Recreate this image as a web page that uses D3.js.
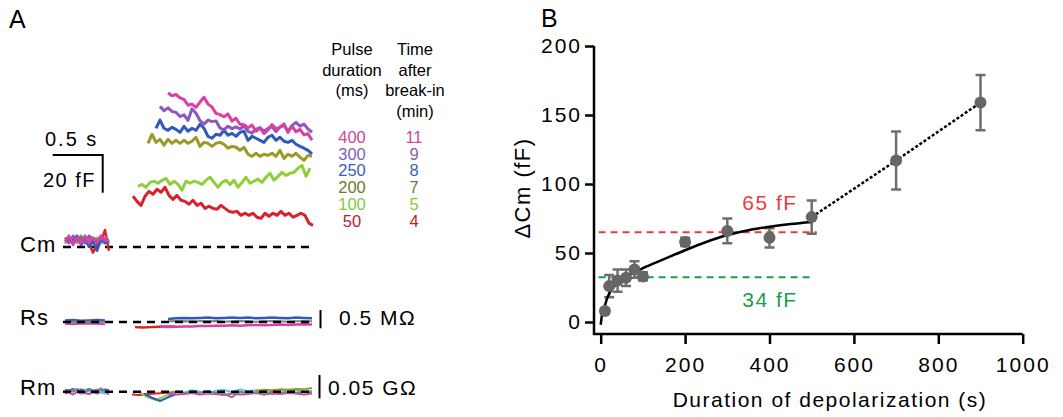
<!DOCTYPE html>
<html>
<head>
<meta charset="utf-8">
<script src="https://cdn.jsdelivr.net/npm/d3@7"></script>
<style>
  body { margin: 0; background: #fff; }
  text { font-family: "Liberation Sans", Arial, sans-serif; }
</style>
</head>
<body>
<div id="chart"></div>
<script>
// ---------- panel B data ----------
var durations = [10, 20, 40, 60, 80, 100, 200, 300, 400, 500, 700, 900]
var dCm       = [8, 26, 30, 32, 38, 33, 58, 66, 61, 76, 117, 159]
var dCmErr    = [2, 8, 8, 6, 6, 3, 3, 9, 7, 12, 21, 20]
var fitX = [0, 3, 6, 10, 15, 20, 30, 40, 60, 80, 100, 150, 200, 250, 300, 350, 400, 450, 500]
var fitY = [-2, 5, 9, 12, 17, 20.5, 25, 28.5, 33, 36, 39, 45.5, 52, 58, 63, 66.5, 69, 71, 72.5]
var levelValues = [65, 32.5]
var levelLabels = ["65 fF", "34 fF"]
var levelEnds = [512, 495]
var xTicks = [0, 200, 400, 600, 800, 1000]
var yTicks = [0, 50, 100, 150, 200]

// ---------- panel A data ----------
var pulses   = [400, 300, 250, 200, 100, 50]
var breakIn  = [11, 9, 8, 7, 5, 4]
var traceColors = ["#dc3fa4", "#8d58be", "#3159bd", "#9a9a26", "#8ecf3a", "#d7222b"]
var labelColors = ["#d2459c", "#8a5cb8", "#3d5cb8", "#76762e", "#7ccd3c", "#b52230"]
var cmStart = [0.35, 0.27, 0.23, 0.15, 0.05, 0]   // s after pulse
var cm400 = [81.7, 80.2, 80.9, 79.1, 78.3, 75.2, 75.8, 74.1, 76.9, 79.4, 75.8, 74.3, 70.9, 70.2, 69.1, 70.6, 66.8, 68.3, 65.1, 64.9, 63.2, 64.7, 61.4, 63.1, 60.2, 62, 64.9, 62.7, 63.6, 65.3, 60.8, 64.2, 61.1, 62.4, 59.5, 60.1, 56.6]
var cm300 = [74.6, 72.3, 73.8, 71.9, 71.4, 69.2, 70.1, 67.2, 73.3, 70.9, 67.1, 65.2, 67.3, 66.5, 66.9, 63.1, 62.2, 64.1, 62.8, 63.7, 62.6, 64.2, 61.3, 60.4, 62.5, 63.3, 61.4, 62.9, 63.9, 61.2, 63.6, 64.5, 61.5, 64.4, 66.1, 64.1, 65.2, 62.6, 60.8]
var cm250 = [63, 67.3, 63, 61.9, 63.5, 62.4, 60.8, 64, 61.4, 63, 61.9, 65.1, 63, 58.7, 57.7, 59.8, 59.3, 61.9, 59.3, 60.3, 58.7, 60.8, 61.4, 56.6, 58.7, 57.7, 56.6, 55.5, 58.2, 59.3, 56.6, 58.2, 56.1, 55.5, 56.6, 54.5, 53.4, 52.4, 51.3, 49.4]
var cm200 = [55, 59.8, 55.5, 57.1, 54, 57.1, 55, 56.6, 55, 56.6, 55, 56.1, 58.2, 53.4, 55.5, 55, 53.4, 55, 55.5, 54.5, 52.4, 53.4, 52.9, 51.3, 52.9, 49.2, 48.1, 49.7, 48.1, 49.2, 48.6, 49.7, 48.1, 51.3, 47, 49.2, 48.1, 49.7, 47.6, 46, 48.6, 48.1]
var cm100 = [32.2, 33.2, 31.7, 34.3, 34.9, 33.8, 35.4, 36.4, 33.2, 34.9, 33.2, 30.1, 34.9, 33.8, 34.9, 34.3, 33.2, 35.4, 37, 34.3, 31.7, 34.3, 35.4, 33.2, 35.4, 31.7, 34.3, 37, 33.8, 34.9, 36, 34.3, 37, 39.1, 35.4, 37.5, 39.6, 38, 39.1, 39.6, 41.8, 43.3, 37.5, 41.8]
var cm50  = [26.9, 24.2, 22.1, 26.9, 29.5, 28, 30.6, 29, 31.7, 27.4, 25.3, 27.4, 24.8, 24.2, 22.7, 24.8, 22.1, 23.2, 20.5, 21.6, 20.5, 20, 22.1, 20.5, 18.9, 18.4, 18.9, 16.8, 17.9, 16.8, 17.9, 15.8, 15.2, 17.9, 16.3, 17.9, 16.8, 18.9, 16.8, 17.9, 15.8, 16.8, 17.9, 16.8, 12.6, 11.5]
var cmTraces = [cm400, cm300, cm250, cm200, cm100, cm50]

// baseline before the pulse (fF), one per colour
var cmPre400 = [3, 6, 1, 5, 2, 6, 2, 5, 3, 6, 4, 3]
var cmPre300 = [4, 2, 6, 3, 5, 2, 6, 4, 2, 5, 3, 4]
var cmPre250 = [5, 3, 4, 6, 1, 4, 0, 3, -2, 4, 2, 3]
var cmPre200 = [2, 5, 3, 4, 6, 3, 5, 2, 4, 3, 5, 2]
var cmPre100 = [4, 3, 5, 2, 4, 5, 3, 4, 5, 2, 4, 3]
var cmPre50  = [3, 4, 2, 5, 3, 4, 2, -3, 1, 3, 9, -2]
var cmPre = [cmPre400, cmPre300, cmPre250, cmPre200, cmPre100, cmPre50]

// Rs (MOhm, offset from baseline)
var rsPreBlue = [0.05, 0.06, 0.04, 0.05, 0.06, 0.05]
var rsPrePink = [-0.05, -0.06, -0.04, -0.05, -0.05, -0.06]
var rsPreGray = [0, 0.01, -0.01, 0.01, 0, 0.01]
var rsRed   = [-0.14, -0.15, -0.14, -0.13, -0.12, -0.12]
var rsGreen = [0.03, 0.02, 0.03]
var rsPink  = [-0.13, -0.14, -0.13, -0.12, -0.12, -0.11, -0.11, -0.1, -0.1, -0.09, -0.1, -0.09, -0.08, -0.09, -0.08, -0.07, -0.08, -0.07, -0.06, -0.07]
var rsBlue  = [0.08, 0.1, 0.11, 0.1, 0.11, 0.12, 0.1, 0.11, 0.12, 0.11, 0.12, 0.1, 0.11, 0.12, 0.11, 0.1, 0.12, 0.11, 0.1]
var rsGray  = [0.02, 0.03, 0.02, 0.01, 0.03, 0.02, 0.03, 0.01, 0.02, 0.03, 0.02, 0.01, 0.02, 0.03, 0.02, 0.01, 0.02, 0.03, 0.02]

// Rm (GOhm, offset from baseline)
var rmPreBlue = [0.004, 0.002, 0.006, 0.001, 0.005, 0.003, 0.006, 0.002, 0.004, 0.001, 0.005, 0.003]
var rmPrePink = [-0.004, -0.002, -0.006, -0.001, -0.004, -0.003, -0.005, -0.002, -0.004, -0.001, -0.003, -0.005]
var rmPreGray = [0.001, 0.004, 0, 0.006, 0.002, -0.002, 0.005, 0, 0.003, 0.007, 0.001, 0.002]
var rmPreCyan = [0.002, -0.001, 0.003, 0, -0.002, 0.004, 0.001, -0.003, 0.002, 0, -0.004, 0.001]
var rmRed   = [-0.006, -0.007, -0.005, -0.004, -0.003, -0.002]
var rmGreen = [-0.002, -0.012, -0.018, -0.01, -0.004]
var rmBlue  = [-0.004, -0.013, -0.02, -0.012, -0.005]
var rmPink  = [-0.004, -0.006, -0.005, -0.003, -0.006, -0.004, -0.005, -0.007, -0.004, -0.006, -0.005, -0.003, -0.006, -0.004, -0.005, -0.003, -0.004, -0.006, -0.004]
var rmCyan  = [0.001, -0.002, 0.003, 0, -0.003, 0.002, 0.004, -0.001, 0.005, 0.001, 0.003, -0.002, 0.002, 0.004, 0, 0.003, -0.001, 0.002]
var rmGray  = [-0.002, 0, -0.003, -0.001, -0.002, 0.001, -0.003, -0.004, -0.012, 0, -0.003, -0.001, -0.006, 0, -0.002, -0.001, -0.003, 0, -0.002]
var rmOlive = [0.002, 0.004, 0.003, 0.005, 0.004, 0.006, 0.005, 0.008]

var svg = d3.select("#chart").append("svg")
  .attr("width", 1063)
  .attr("height", 417)

// ================= panel A =================
var tx = d3.scaleLinear().domain([0, 1]).range([133, 233])
var cmY = d3.scaleLinear().domain([0, 20]).range([247, 209.3])
var rsY = d3.scaleLinear().domain([0, 0.5]).range([322, 303.7])
var rmY = d3.scaleLinear().domain([0, 0.05]).range([391.7, 368.4])

function trace(vals, t0, dt, yScale, color, w) {
  var line = d3.line()
    .x(function(d, i) { return tx(t0 + i * dt) })
    .y(function(d) { return yScale(d) })
  svg.append("path")
    .attr("d", line(vals))
    .attr("fill", "none")
    .attr("stroke", color)
    .attr("stroke-width", w)
    .attr("stroke-linejoin", "round")
}
function dashed(yScale) {
  svg.append("line")
    .attr("x1", tx(-0.7)).attr("x2", tx(1.79))
    .attr("y1", yScale(0)).attr("y2", yScale(0))
    .attr("stroke", "#000").attr("stroke-width", 2.5)
    .attr("stroke-dasharray", "8,6")
}

svg.append("text").attr("x", 9).attr("y", 28).text("A")
  .style("font-size", "25px")

// Cm
dashed(cmY)
for (let i = 5; i >= 0; i--) {
  trace(cmTraces[i], cmStart[i], 0.04, cmY, traceColors[i], 3)
}
for (let i = 5; i >= 0; i--) {
  trace(cmPre[i], -0.68, 0.04, cmY, traceColors[i], 2.5)
}

// Rs
trace(rsPreBlue, -0.68, 0.08, rsY, traceColors[2], 2)
trace(rsPrePink, -0.68, 0.08, rsY, traceColors[0], 2)
trace(rsPreGray, -0.68, 0.08, rsY, "#808080", 2)
trace(rsRed, 0.02, 0.08, rsY, traceColors[5], 2.5)
trace(rsGreen, 0.45, 0.08, rsY, traceColors[4], 2)
trace(rsBlue, 0.35, 0.08, rsY, traceColors[2], 2.5)
trace(rsPink, 0.27, 0.08, rsY, traceColors[0], 2.5)
trace(rsGray, 0.35, 0.08, rsY, "#808080", 2)
dashed(rsY)

// Rm
trace(rmPreBlue, -0.68, 0.04, rmY, traceColors[2], 2)
trace(rmPrePink, -0.68, 0.04, rmY, traceColors[0], 2)
trace(rmPreCyan, -0.68, 0.04, rmY, "#4ec8f0", 2)
trace(rmPreGray, -0.68, 0.04, rmY, "#808080", 2)
trace(rmRed, -0.01, 0.08, rmY, traceColors[5], 2)
trace(rmGreen, 0.07, 0.08, rmY, traceColors[4], 2)
trace(rmBlue, 0.11, 0.08, rmY, traceColors[2], 2)
trace(rmPink, 0.35, 0.08, rmY, traceColors[0], 2)
trace(rmCyan, 0.43, 0.08, rmY, "#4ec8f0", 2)
trace(rmOlive, 1.23, 0.08, rmY, traceColors[3], 2)
trace(rmGray, 0.35, 0.08, rmY, "#808080", 2)
dashed(rmY)

// row labels
var rowLabels = [["Cm", 252], ["Rs", 325], ["Rm", 395]]
rowLabels.forEach(function(r) {
  svg.append("text").attr("x", 20).attr("y", r[1]).text(r[0])
    .style("font-size", "22px").style("letter-spacing", "1px")
})

// scale bars
var barX = 102.7, barY = 155
svg.append("path")
  .attr("d", "M" + (barX - (tx(0.5) - tx(0))) + "," + barY + "H" + barX + "V" + (barY + cmY(0) - cmY(20)))
  .attr("fill", "none").attr("stroke", "#000").attr("stroke-width", 2)
svg.append("text").attr("x", 45).attr("y", 145.5).text("0.5 s")
  .style("font-size", "20px").style("letter-spacing", "2px")
svg.append("text").attr("x", 43).attr("y", 186.5).text("20 fF")
  .style("font-size", "20px").style("letter-spacing", "1.5px")

svg.append("line").attr("x1", 320.5).attr("x2", 320.5)
  .attr("y1", 310).attr("y2", 310 + rsY(0) - rsY(0.5))
  .attr("stroke", "#000").attr("stroke-width", 2)
svg.append("text").attr("x", 339).attr("y", 325).text("0.5 M\u03A9")
  .style("font-size", "21px").style("letter-spacing", "1.5px")
svg.append("line").attr("x1", 319.5).attr("x2", 319.5)
  .attr("y1", 375).attr("y2", 375 + rmY(0) - rmY(0.05))
  .attr("stroke", "#000").attr("stroke-width", 2)
svg.append("text").attr("x", 328).attr("y", 395).text("0.05 G\u03A9")
  .style("font-size", "21px").style("letter-spacing", "1.5px")

// legend
var head1 = ["Pulse", "duration", "(ms)"]
var head2 = ["Time", "after", "break-in", "(min)"]
var headY = [55, 76, 96, 117]
head1.forEach(function(t, i) {
  svg.append("text").attr("x", 352).attr("y", headY[i]).text(t)
    .attr("text-anchor", "middle").style("font-size", "16.5px")
})
head2.forEach(function(t, i) {
  svg.append("text").attr("x", 415).attr("y", headY[i]).text(t)
    .attr("text-anchor", "middle").style("font-size", "16.5px")
})
for (let i = 0; i < pulses.length; i++) {
  var ly = 143 + i * 16.7
  svg.append("text").attr("x", 352).attr("y", ly).text(pulses[i])
    .attr("text-anchor", "middle").attr("fill", labelColors[i]).style("font-size", "16.5px")
  svg.append("text").attr("x", 414).attr("y", ly).text(breakIn[i])
    .attr("text-anchor", "middle").attr("fill", labelColors[i]).style("font-size", "16.5px")
}

// ================= panel B =================
var x = d3.scaleLinear().domain([0, 1000]).range([600.7, 1022.7])
var y = d3.scaleLinear().domain([0, 200]).range([322, 46])
var axisY0 = 334, axisX0 = 594

svg.append("text").attr("x", 541).attr("y", 27).text("B")
  .style("font-size", "25px")

var gx = svg.append("g")
  .attr("transform", "translate(0," + axisY0 + ")")
  .call(d3.axisBottom(x).tickValues(xTicks).tickFormat(d3.format("d"))
    .tickSize(10).tickPadding(13).tickSizeOuter(0))
gx.select(".domain").remove()
gx.selectAll("line").attr("stroke-width", 2.5)
gx.selectAll("text").style("font-size", "21px").style("letter-spacing", "2px")
  .style("font-family", "'Liberation Sans', Arial, sans-serif")

var gy = svg.append("g")
  .attr("transform", "translate(" + axisX0 + ",0)")
  .call(d3.axisLeft(y).tickValues(yTicks).tickSize(9).tickPadding(3).tickSizeOuter(0))
gy.select(".domain").remove()
gy.selectAll("line").attr("stroke-width", 2.5)
gy.selectAll("text").style("font-size", "21px").style("letter-spacing", "2px")
  .style("font-family", "'Liberation Sans', Arial, sans-serif")

svg.append("path")
  .attr("d", "M" + axisX0 + "," + y(200) + "V" + axisY0 + "H" + x(1000))
  .attr("fill", "none").attr("stroke", "#000").attr("stroke-width", 2.5)

svg.append("text")
  .attr("x", 830).attr("y", 407).attr("text-anchor", "middle")
  .text("Duration of depolarization (s)")
  .style("font-size", "21px").style("letter-spacing", "1.5px")
svg.append("text")
  .attr("transform", "translate(530,188) rotate(-90)")
  .attr("text-anchor", "middle")
  .text("\u0394Cm (fF)")
  .style("font-size", "22px").style("letter-spacing", "1.5px")

// reference levels
var levelColors = ["#ef3b3b", "#1a9e4a"]
var levelTextY = [210, 306.5]
for (let i = 0; i < levelValues.length; i++) {
  svg.append("line")
    .attr("x1", x(-5)).attr("x2", x(levelEnds[i]))
    .attr("y1", y(levelValues[i])).attr("y2", y(levelValues[i]))
    .attr("stroke", levelColors[i]).attr("stroke-width", 2)
    .attr("stroke-dasharray", "7,5")
  svg.append("text").attr("x", 770).attr("y", levelTextY[i])
    .attr("text-anchor", "middle").attr("fill", levelColors[i])
    .text(levelLabels[i])
    .style("font-size", "21px").style("letter-spacing", "1.5px")
}

// error bars
var pts = durations.map(function(d, i) { return {d: d, v: dCm[i], e: dCmErr[i]} })
pts.forEach(function(p) {
  var cx = x(p.d)
  svg.append("path")
    .attr("d", "M" + (cx - 5) + "," + y(p.v + p.e) + "H" + (cx + 5) +
               "M" + cx + "," + y(p.v + p.e) + "V" + y(p.v - p.e) +
               "M" + (cx - 5) + "," + y(p.v - p.e) + "H" + (cx + 5))
    .attr("fill", "none").attr("stroke", "#6e6e6e").attr("stroke-width", 2.5)
})

// fit (solid) and extrapolation (dotted)
svg.append("path")
  .attr("d", d3.line().curve(d3.curveMonotoneX)
    .x(function(d, i) { return x(fitX[i]) })
    .y(function(d) { return y(d) })(fitY))
  .attr("fill", "none").attr("stroke", "#000").attr("stroke-width", 2.5)

var tail = pts.filter(function(p) { return p.d >= 500 })
svg.append("path")
  .attr("d", d3.line().x(function(p) { return x(p.d) }).y(function(p) { return y(p.v) })(tail))
  .attr("fill", "none").attr("stroke", "#000").attr("stroke-width", 2.5)
  .attr("stroke-dasharray", "3,2")

svg.selectAll("circle.pt")
  .data(pts)
  .enter()
  .append("circle")
    .attr("class", "pt")
    .attr("cx", function(p) { return x(p.d) })
    .attr("cy", function(p) { return y(p.v) })
    .attr("r", 6)
    .attr("fill", "#666")
</script>
</body>
</html>
